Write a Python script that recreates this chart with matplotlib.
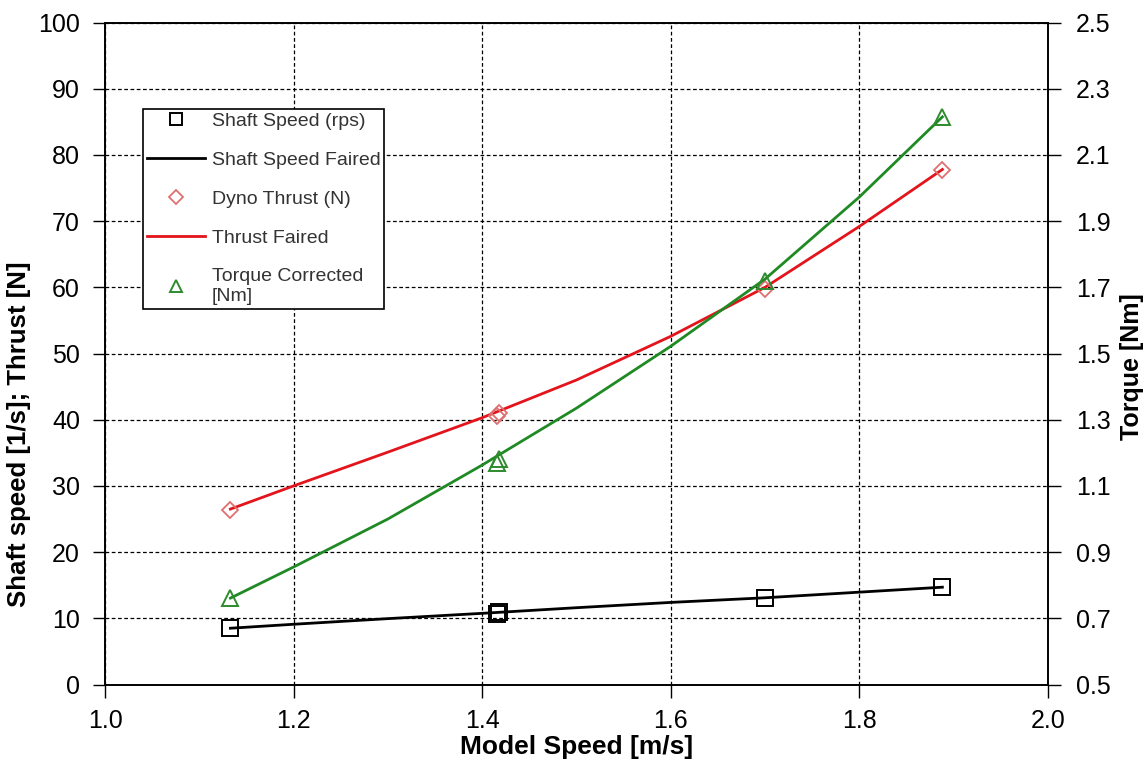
import matplotlib
matplotlib.use("Agg")
import matplotlib.pyplot as plt

# ---- data ----
model_speed = [1.133, 1.416, 1.418, 1.700, 1.888]
shaft_speed = [8.6, 10.7, 10.9, 13.1, 14.7]
dyno_thrust = [26.4, 40.6, 41.0, 59.7, 77.7]
torque_corr = [0.76, 1.17, 1.18, 1.72, 2.215]

fair_x = [1.133, 1.2, 1.3, 1.4, 1.5, 1.6, 1.7, 1.8, 1.888]
shaft_fair = [8.5, 9.1, 9.95, 10.75, 11.6, 12.4, 13.1, 13.95, 14.7]
thrust_fair = [26.5, 30.0, 35.1, 40.3, 46.0, 52.6, 60.0, 69.2, 77.8]
torque_fair = [0.761, 0.855, 1.0, 1.163, 1.335, 1.522, 1.725, 1.973, 2.215]

x_ticks = [1.0, 1.2, 1.4, 1.6, 1.8, 2.0]
left_ticks = list(range(0, 101, 10))
right_ticks = [0.5, 0.7, 0.9, 1.1, 1.3, 1.5, 1.7, 1.9, 2.1, 2.3, 2.5]

plt.rcParams['font.family'] = ['Liberation Sans', 'DejaVu Sans']

fig = plt.figure(figsize=(11.44, 7.76), dpi=100)
ax = fig.add_axes([105/1144, 1-684.5/776, 943/1144, 662/776])
ax2 = ax.twinx()

ax.set_xlim(1.0, 2.0)
ax.set_ylim(0, 100)
ax2.set_ylim(0.5, 2.5)

ax.grid(True, color='black', linestyle=(0, (3, 2)), linewidth=0.9)
ax.set_axisbelow(True)

l_ss, = ax.plot(model_speed, shaft_speed, linestyle='none', marker='s', markersize=11,
                markerfacecolor='none', markeredgecolor='black', markeredgewidth=1.4, zorder=4)
l_ssf, = ax.plot(fair_x, shaft_fair, color='black', linewidth=2, zorder=3)
l_dt, = ax.plot(model_speed, dyno_thrust, linestyle='none', marker='D', markersize=8,
                markerfacecolor='none', markeredgecolor='#e07070', markeredgewidth=1.3, zorder=4)
l_tf, = ax.plot(fair_x, thrust_fair, color='#e3141c', linewidth=2, zorder=3)
l_tq, = ax2.plot(model_speed, torque_corr, linestyle='none', marker='^', markersize=11,
                 markerfacecolor='none', markeredgecolor='#2e8b2e', markeredgewidth=1.4, zorder=4)
ax2.plot(fair_x, torque_fair, color='#1f8a24', linewidth=2, zorder=3)

ax.set_xticks(x_ticks)
ax.set_xticklabels([f"{v:.1f}" for v in x_ticks], fontsize=18)
ax.set_yticks(left_ticks)
ax.set_yticklabels([str(v) for v in left_ticks], fontsize=18)
ax2.set_yticks(right_ticks)
ax2.set_yticklabels([f"{v:.1f}" for v in right_ticks], fontsize=18)

ax.tick_params(axis='both', direction='out', length=9, width=1, color='black')
ax.tick_params(axis='y', pad=9)
ax.tick_params(axis='x', pad=9)
ax2.tick_params(axis='y', direction='out', length=9, width=1, pad=11)

for a in (ax, ax2):
    for s in a.spines.values():
        s.set_linewidth(1.2)
        s.set_color('black')

ax.set_xlabel('Model Speed [m/s]', fontweight='bold', fontsize=19)
ax.xaxis.set_label_coords(0.5, -0.077)
ax.set_ylabel('Shaft speed [1/s]; Thrust [N]', fontweight='bold', fontsize=18.5)
ax.yaxis.set_label_coords(-0.078, 0.378)
ax2.set_ylabel('Torque [Nm]', fontweight='bold', fontsize=18)
ax2.yaxis.set_label_coords(1.076, 0.48)

leg = ax.legend([l_ss, l_ssf, l_dt, l_tf, l_tq],
                ['Shaft Speed (rps)', 'Shaft Speed Faired', 'Dyno Thrust (N)', 'Thrust Faired',
                 'Torque Corrected\n[Nm]'],
                loc='upper left', bbox_to_anchor=(0.040, 0.870), borderaxespad=0,
                fancybox=False, framealpha=1, edgecolor='black',
                labelspacing=1.1, handlelength=3.0, handletextpad=0.35, borderpad=0.2,
                markerscale=0.85, prop={'size': 14})
leg.get_frame().set_linewidth(1.2)
for t in leg.get_texts():
    t.set_color('#333333')
leg.set_zorder(10)

fig.savefig('out.png', dpi=100)
